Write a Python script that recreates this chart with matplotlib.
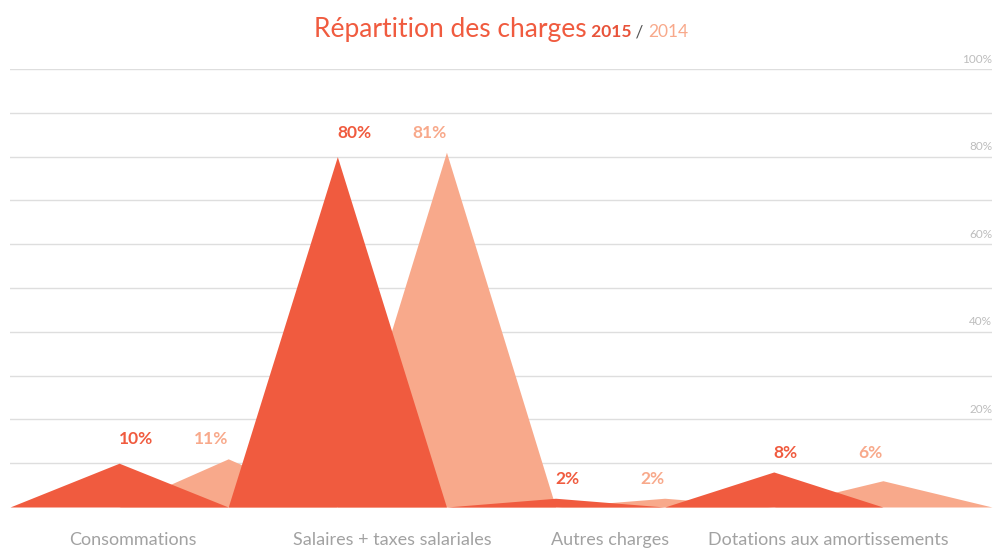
import matplotlib
matplotlib.use("Agg")
import matplotlib.pyplot as plt
import numpy as np

categories = ["Consommations", "Salaires + taxes salariales", "Autres charges", "Dotations aux amortissements"]
values_2015 = [10, 80, 2, 8]
values_2014 = [11, 81, 2, 6]
y_ticks = [20, 40, 60, 80, 100]

red = "#F05B3F"
salmon = "#F8A98B"
grey_txt = "#a2a2a2"
font = ["Lato", "DejaVu Sans"]

W, H = 996, 548
fig = plt.figure(figsize=(W / 100, H / 100), dpi=100)
ax = fig.add_axes([10 / W, (H - 507) / H, 982 / W, 438 / H])

# 10 slots: 2015 peaks at 1,3,5,7 ; 2014 peaks at 2,4,6,8
n = 2 * len(categories) + 2
x = np.arange(n)
s2015 = np.zeros(n)
s2014 = np.zeros(n)
for i in range(len(categories)):
    s2015[2 * i + 1] = values_2015[i]
    s2014[2 * i + 2] = values_2014[i]

for g in range(10, 101, 10):
    ax.axhline(g, color="#dedede", lw=1, zorder=0)

ax.fill_between(x, 0, s2014, color=salmon, lw=0, zorder=1)
ax.fill_between(x, 0, s2015, color=red, lw=0, zorder=2)

ax.set_xlim(0, n - 1)
ax.set_ylim(0, 100)
ax.axis("off")

for t in y_ticks:
    ax.text(n - 1, t + 1.0, f"{t}%", ha="right", va="bottom", fontsize=8.5,
            color="#bdbdbd", family=font)

for i in range(len(categories)):
    top = max(values_2015[i], values_2014[i]) + 2.6
    ax.text(2 * i + 1, top, f"{values_2015[i]}%", ha="left", va="bottom",
            fontsize=12.5, fontweight="bold", color=red, family=font)
    ax.text(2 * i + 2, top, f"{values_2014[i]}%", ha="right", va="bottom",
            fontsize=12.5, fontweight="bold", color=salmon, family=font)

# category labels centred between the two peaks (first one sits a bit left)
label_x = [1.13, 3.5, 5.5, 7.5]
for i, c in enumerate(categories):
    ax.text(label_x[i], -8.7, c, ha="center", va="baseline",
            fontsize=13, color=grey_txt, family=font,
            clip_on=False)

# title in pieces
fig.canvas.draw()
r = fig.canvas.get_renderer()
parts = [("Répartition des charges", red, 19, "normal"),
         (" 2015", "#E8533A", 12.5, "bold"),
         (" / ", "#555555", 12.5, "normal"),
         ("2014", salmon, 12.5, "normal")]
texts = []
xpos = 0
for s, col, fs, fw in parts:
    t = fig.text(xpos, 1 - 37 / H, s, color=col, fontsize=fs, fontweight=fw,
                 family=font, ha="left", va="baseline")
    bb = t.get_window_extent(r)
    xpos += bb.width / W
    texts.append(t)
start = 0.5 - xpos / 2 + 3 / W
cur = start
for t in texts:
    bb = t.get_window_extent(r)
    t.set_x(cur)
    cur += bb.width / W

fig.savefig("out.png", dpi=100)
